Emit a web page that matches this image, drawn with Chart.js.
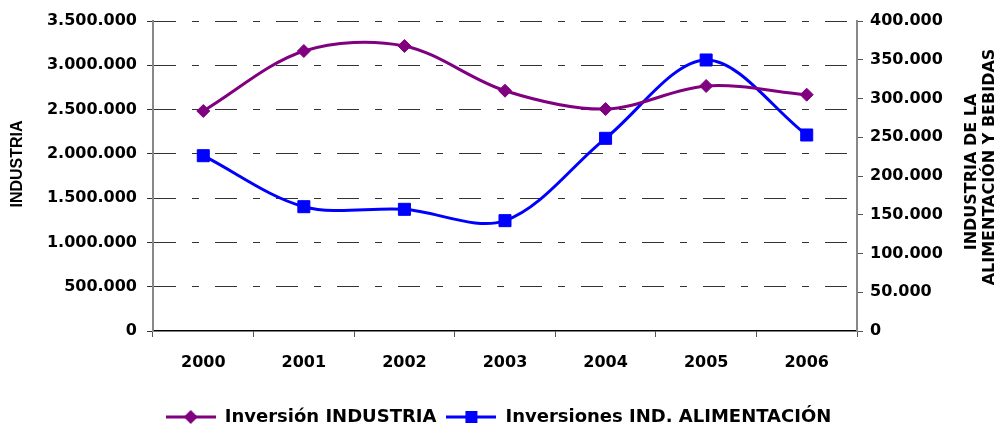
<!DOCTYPE html>
<html>
<head>
<meta charset="utf-8">
<script src="https://cdn.jsdelivr.net/npm/chart.js@4.4.1/dist/chart.umd.min.js"></script>
<style>
    html, body { margin: 0; padding: 0; background: #ffffff; }
    #wrap { position: relative; width: 997px; height: 427px; }
</style>
</head>
<body>
<div id="wrap"><canvas id="chart"></canvas></div>
<script>
const years = ["2000", "2001", "2002", "2003", "2004", "2005", "2006"];
const inversionIndustria = [2484000, 3161000, 3218000, 2713000, 2506000, 2766000, 2668000];
const inversionAlimentacion = [226200, 160400, 157000, 142400, 248600, 349700, 252900];

const leftTicks = [0, 500000, 1000000, 1500000, 2000000, 2500000, 3000000, 3500000];
const rightTicks = [0, 50000, 100000, 150000, 200000, 250000, 300000, 350000, 400000];

const leftTitle = "INDUSTRIA";
const rightTitle = ["INDUSTRIA DE LA", "ALIMENTACIÓN Y BEBIDAS"];

const PURPLE = "#800080";
const BLUE = "#0000ff";
const FONT = '"DejaVu Sans", sans-serif';

function formatNumber(v) {
    return String(Math.round(v)).replace(/\B(?=(\d{3})+(?!\d))/g, ".");
}

// little line + marker picture for the legend
function legendIcon(color, shape) {
    const c = document.createElement("canvas");
    c.width = 50;
    c.height = 16;
    const g = c.getContext("2d");
    g.strokeStyle = color;
    g.fillStyle = color;
    g.lineWidth = 3;
    g.beginPath();
    g.moveTo(0, 8);
    g.lineTo(50, 8);
    g.stroke();
    g.beginPath();
    if (shape === "diamond") {
        g.moveTo(25, 1);
        g.lineTo(32, 8);
        g.lineTo(25, 15);
        g.lineTo(18, 8);
        g.closePath();
        g.fill();
    } else {
        g.fillRect(19, 2, 12, 12);
    }
    return c;
}

const axisTitles = {
    id: "axisTitles",
    afterDraw(chart) {
        const ctx = chart.ctx;
        ctx.save();
        ctx.fillStyle = "#000";
        ctx.textAlign = "center";
        ctx.textBaseline = "middle";
        const draw = (text, x, y) => {
            ctx.save();
            ctx.translate(x, y);
            ctx.rotate(-Math.PI / 2);
            ctx.fillText(text, 0, 0);
            ctx.restore();
        };
        ctx.font = 'bold 16px "Liberation Sans", Arial, sans-serif';
        draw(leftTitle, 18, 164);
        ctx.font = "bold 16px " + FONT;
        draw(rightTitle[0], 972, 172);
        draw(rightTitle[1], 990, 167);
        ctx.restore();
    },
};

Chart.defaults.font.family = FONT;
Chart.defaults.font.size = 16;
Chart.defaults.font.weight = "bold";
Chart.defaults.color = "#000";

new Chart(document.getElementById("chart"), {
    type: "line",
    data: {
        labels: years,
        datasets: [
            {
                label: "Inversión INDUSTRIA",
                data: inversionIndustria,
                yAxisID: "y",
                borderColor: PURPLE,
                backgroundColor: PURPLE,
                borderWidth: 3,
                pointStyle: "rectRot",
                pointRadius: 6.5,
                pointHoverRadius: 6.5,
                pointBorderWidth: 1,
                tension: 0.33,
            },
            {
                label: "Inversiones IND. ALIMENTACIÓN",
                data: inversionAlimentacion,
                yAxisID: "y2",
                borderColor: BLUE,
                backgroundColor: BLUE,
                borderWidth: 3,
                pointStyle: "rect",
                pointRadius: 8.5,
                pointHoverRadius: 8.5,
                pointBorderWidth: 1,
                tension: 0.33,
            },
        ],
    },
    options: {
        responsive: true,
        maintainAspectRatio: false,
        animation: false,
        layout: {
            padding: { top: 21, right: 0, bottom: -9, left: 0 },
        },
        plugins: {
            legend: {
                position: "bottom",
                labels: {
                    usePointStyle: true,
                    pointStyleWidth: 50,
                    boxHeight: 16,
                    padding: 10,
                    font: { size: 18, weight: "bold" },
                    generateLabels(chart) {
                        const icons = [legendIcon(PURPLE, "diamond"), legendIcon(BLUE, "square")];
                        return chart.data.datasets.map((ds, i) => ({
                            text: ds.label,
                            pointStyle: icons[i],
                            fillStyle: ds.borderColor,
                            strokeStyle: ds.borderColor,
                            lineWidth: 0,
                            datasetIndex: i,
                            hidden: false,
                        }));
                    },
                },
            },
            tooltip: { enabled: false },
        },
        scales: {
            x: {
                offset: true,
                grid: {
                    offset: true,
                    drawOnChartArea: false,
                    tickLength: 6,
                    color: "#555",
                },
                border: { color: "#000", width: 1.5 },
                ticks: { padding: 16 },
                afterFit(scale) {
                    scale.height = 67;
                },
            },
            y: {
                position: "left",
                min: 0,
                max: 3500000,
                afterBuildTicks(scale) {
                    scale.ticks = leftTicks.map((v) => ({ value: v }));
                },
                grid: {
                    color: (c) => (c.tick && c.tick.value === 0 ? "rgba(0,0,0,0)" : "#333"),
                    tickColor: "#333",
                    tickLength: 6,
                    lineWidth: 1,
                },
                border: { color: "#888", width: 2, dash: [22, 16, 7, 16] },
                ticks: {
                    padding: 10,
                    callback: (v) => formatNumber(v),
                },
                afterFit(scale) {
                    scale.width = 153;
                },
            },
            y2: {
                position: "right",
                min: 0,
                max: 400000,
                afterBuildTicks(scale) {
                    scale.ticks = rightTicks.map((v) => ({ value: v }));
                },
                grid: {
                    drawOnChartArea: false,
                    tickColor: "#555",
                    tickLength: 6,
                },
                border: { color: "#888", width: 2 },
                ticks: {
                    padding: 7,
                    callback: (v) => formatNumber(v),
                },
                afterFit(scale) {
                    scale.width = 140;
                },
            },
        },
    },
    plugins: [axisTitles],
});
</script>
</body>
</html>
